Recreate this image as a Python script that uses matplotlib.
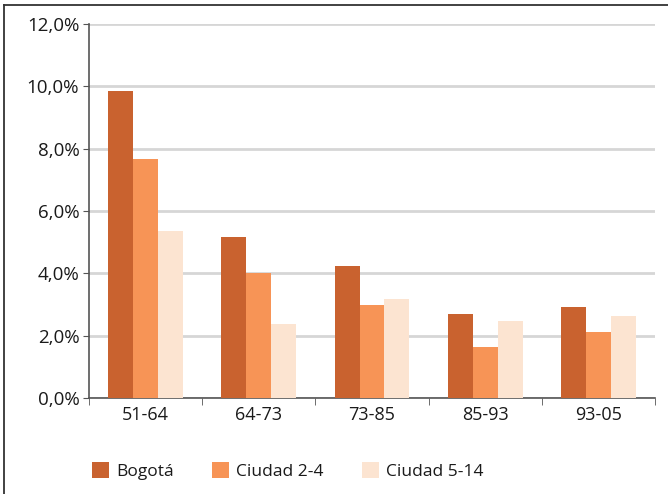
import numpy as np
import matplotlib.pyplot as plt
from matplotlib.lines import Line2D

# Data
periods = ["51-64", "64-73", "73-85", "85-93", "93-05"]
bogota = [9.84, 5.16, 4.23, 2.69, 2.92]
ciudad_2_4 = [7.66, 4.00, 2.98, 1.63, 2.12]
ciudad_5_14 = [5.35, 2.37, 3.17, 2.47, 2.63]
series_names = ["Bogotá", "Ciudad 2-4", "Ciudad 5-14"]
colors = ["#C9622F", "#F79456", "#FCE4D1"]

plt.rcParams['font.family'] = ['Open Sans', 'DejaVu Sans']

fig = plt.figure(figsize=(6.68, 4.94), dpi=100)
ax = fig.add_axes([0.1332, 0.1943, 0.8473, 0.7571])

x = np.arange(len(periods))
w = 0.22
for i, (vals, name, c) in enumerate(zip([bogota, ciudad_2_4, ciudad_5_14], series_names, colors)):
    ax.bar(x + (i - 1) * w, vals, width=w, color=c, label=name, zorder=3)

ax.set_xlim(-0.5, len(periods) - 0.5)
ax.set_ylim(0, 12)
ax.set_yticks(np.arange(0, 13, 2))
ax.set_yticklabels([f"{v:.1f}%".replace(".", ",") for v in np.arange(0, 13, 2)])
ax.yaxis.grid(True, color="#d6d6d6", linewidth=2, zorder=0)

# category labels centred, tick marks between categories
ax.set_xticks(x)
ax.set_xticklabels(periods)
ax.tick_params(axis="x", length=0, pad=6, labelsize=13, colors="#1a1a1a")
ax.set_xticks(np.arange(-0.5, len(periods)), minor=True)
ax.tick_params(axis="x", which="minor", length=5, color="#555555")
ax.tick_params(axis="y", length=4, color="#555555", labelsize=13.5, labelcolor="#1a1a1a", pad=3)

for s in ["top", "right"]:
    ax.spines[s].set_visible(False)
for s in ["left", "bottom"]:
    ax.spines[s].set_color("#555555")
    ax.spines[s].set_linewidth(1.2)

handles, labels = ax.get_legend_handles_labels()
fig.legend(handles, labels, loc="center left", bbox_to_anchor=(92 / 668, 1 - 471 / 494),
           ncol=3, frameon=False, fontsize=12.5, handlelength=1.0, handleheight=1.0,
           columnspacing=2.2, handletextpad=0.4, borderpad=0, borderaxespad=0,
           labelcolor="#1a1a1a")

# outer frame
fig.add_artist(Line2D([4 / 668, 4 / 668], [0, 1 - 5 / 494], color="#333333", lw=1.3))
fig.add_artist(Line2D([4 / 668, 1], [1 - 5 / 494, 1 - 5 / 494], color="#333333", lw=1.3))

fig.savefig("out.png", dpi=100)
